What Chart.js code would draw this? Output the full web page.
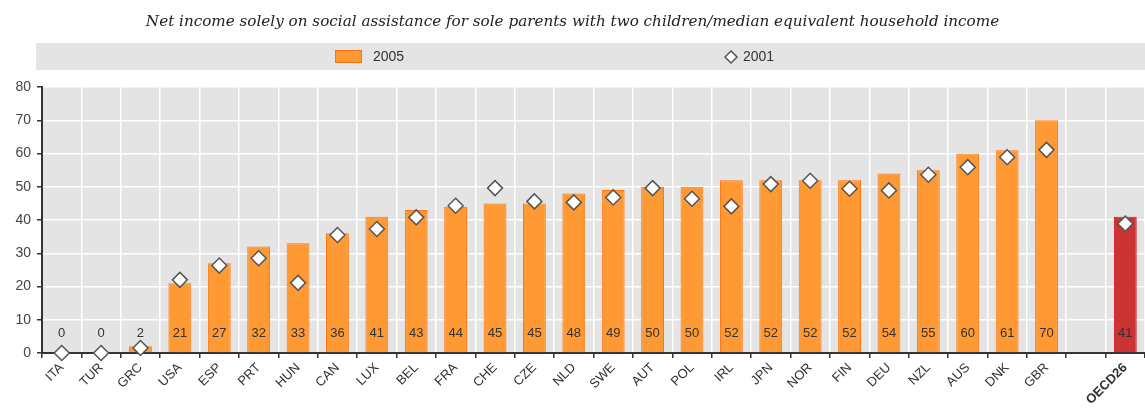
<!DOCTYPE html>
<html>
<head>
<meta charset="utf-8">
<script src="https://cdn.jsdelivr.net/npm/chart.js@4"></script>
<style>
  html, body { margin: 0; padding: 0; background: #fff; }
  #wrap { width: 1145px; height: 408px; }
</style>
</head>
<body>
<div id="wrap"><canvas id="chart" width="1145" height="408"></canvas></div>
<script>
const countries = ['ITA', 'TUR', 'GRC', 'USA', 'ESP', 'PRT', 'HUN', 'CAN', 'LUX', 'BEL', 'FRA', 'CHE', 'CZE',
  'NLD', 'SWE', 'AUT', 'POL', 'IRL', 'JPN', 'NOR', 'FIN', 'DEU', 'NZL', 'AUS', 'DNK', 'GBR', '', 'OECD26'];
const values2005 = [0, 0, 2, 21, 27, 32, 33, 36, 41, 43, 44, 45, 45, 48, 49, 50, 50, 52, 52, 52, 52, 54, 55, 60, 61, 70, null, 41];
const values2001 = [0, 0, 1.5, 22, 26.3, 28.5, 21.1, 35.5, 37.3, 40.8, 44.3, 49.6, 45.6, 45.3, 46.8, 49.6, 46.4, 44.1, 50.8,
  51.8, 49.4, 48.9, 53.6, 55.9, 58.9, 61.1, null, 38.9];
const yTicks = [0, 10, 20, 30, 40, 50, 60, 70, 80];
const titleText = 'Net income solely on social assistance for sole parents with two children/median equivalent household income';

const oecdIndex = countries.indexOf('OECD26');
const barFill = countries.map((c, i) => i === oecdIndex ? '#cc3333' : '#ff9933');
const barBorder = countries.map((c, i) => i === oecdIndex ? '#d4142a' : '#ff7410');

// grey plot background + legend band
const backdrop = {
  id: 'backdrop',
  beforeDraw(chart) {
    const { ctx, chartArea: a } = chart;
    ctx.save();
    ctx.fillStyle = '#e4e4e4';
    ctx.fillRect(a.left, a.top, a.right - a.left, a.bottom - a.top);
    ctx.fillRect(36, 43, chart.width - 36, 27);
    ctx.restore();
  },
  afterDraw(chart) {
    const ctx = chart.ctx;
    ctx.save();
    ctx.font = '14px Arial, "Liberation Sans"';
    ctx.textBaseline = 'middle';
    ctx.fillStyle = '#ff9933';
    ctx.strokeStyle = '#ff7410';
    ctx.lineWidth = 1;
    ctx.fillRect(335, 50, 27, 13);
    ctx.strokeRect(335.5, 50.5, 26, 12);
    ctx.fillStyle = '#333';
    ctx.fillText('2005', 373, 57);
    ctx.beginPath();
    ctx.moveTo(731, 51); ctx.lineTo(737, 57); ctx.lineTo(731, 63); ctx.lineTo(725, 57); ctx.closePath();
    ctx.fillStyle = '#fff';
    ctx.fill();
    ctx.strokeStyle = '#555';
    ctx.lineWidth = 1.5;
    ctx.stroke();
    ctx.fillStyle = '#333';
    ctx.fillText('2001', 743, 57);
    ctx.restore();
  }
};

// value labels near the bottom of each bar
const barLabels = {
  id: 'barLabels',
  afterDatasetsDraw(chart) {
    const { ctx } = chart;
    const meta = chart.getDatasetMeta(0);
    const y = chart.scales.y.getPixelForValue(0) - 20;
    ctx.save();
    ctx.font = '13px Arial, "Liberation Sans"';
    ctx.fillStyle = '#333';
    ctx.textAlign = 'center';
    ctx.textBaseline = 'middle';
    meta.data.forEach((bar, i) => {
      const v = values2005[i];
      if (v === null) return;
      ctx.fillText(String(v), bar.x, y);
    });
    ctx.restore();
  }
};

new Chart(document.getElementById('chart'), {
  type: 'bar',
  data: {
    labels: countries,
    datasets: [{
      label: '2005',
      data: values2005,
      backgroundColor: barFill,
      borderColor: barBorder,
      borderWidth: 1,
      barPercentage: 0.58,
      categoryPercentage: 1,
      order: 2
    }, {
      type: 'line',
      label: '2001',
      data: values2001,
      showLine: false,
      pointStyle: 'rectRot',
      pointRadius: 7.5,
      pointHoverRadius: 7.5,
      pointBackgroundColor: '#fff',
      pointBorderColor: '#555',
      pointBorderWidth: 1.5,
      clip: false,
      order: 1
    }]
  },
  options: {
    responsive: false,
    animation: false,
    layout: { autoPadding: false, padding: { left: 0, right: 0, top: 0, bottom: 0 } },
    plugins: {
      legend: { display: false },
      tooltip: { enabled: false },
      title: {
        display: true,
        text: titleText,
        color: '#222',
        font: { family: '"DejaVu Serif", "Liberation Serif", serif', size: 15.2, style: 'italic', weight: 'normal', lineHeight: 1.2 },
        padding: { top: 13, bottom: 55.8 }
      }
    },
    scales: {
      x: {
        offset: true,
        grid: { color: '#fff', lineWidth: 1.5, offset: true, tickColor: '#333', tickLength: 5 },
        border: { color: '#333', width: 2 },
        ticks: {
          minRotation: 45,
          maxRotation: 45,
          autoSkip: false,
          padding: 2,
          color: '#333',
          font: ctx => ({ family: 'Arial, "Liberation Sans"', size: 13, weight: ctx.index === oecdIndex ? 'bold' : 'normal' })
        },
        afterFit(scale) {
          scale.height = 55;
          scale.paddingLeft = 0;
          scale.paddingRight = 0;
        }
      },
      y: {
        min: 0,
        max: 80,
        afterBuildTicks(scale) { scale.ticks = yTicks.map(v => ({ value: v })); },
        grid: { color: '#fff', lineWidth: 1.5, tickColor: '#333', tickLength: 5 },
        border: { color: '#333', width: 2 },
        ticks: {
          color: '#444',
          padding: 6,
          font: { family: 'Arial, "Liberation Sans"', size: 14 }
        },
        afterFit(scale) { scale.width = 42; }
      }
    }
  },
  plugins: [backdrop, barLabels]
});
</script>
</body>
</html>
